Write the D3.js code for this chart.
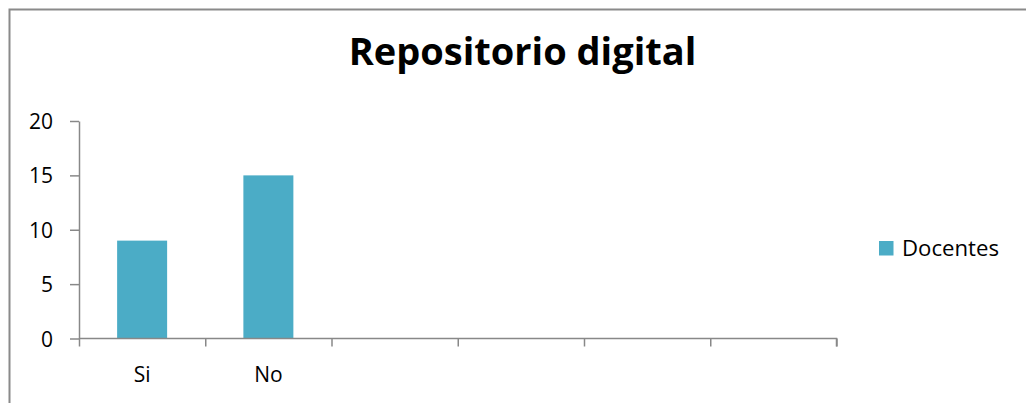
<!DOCTYPE html>
<html><head><meta charset="utf-8">
<script src="https://cdn.jsdelivr.net/npm/d3@7"></script>
<style>body{margin:0;background:#fff}svg{display:block}</style>
</head><body>
<svg id="c" width="1026" height="403"></svg>
<script>
const title = "Repositorio digital";
const categories = ["Si", "No", "", "", "", ""];
const seriesName = "Docentes";
const values = [9, 15, null, null, null, null];
const yTicks = [0, 5, 10, 15, 20];

const font = "'Open Sans', sans-serif";
const svg = d3.select("#c");
const axisColor = "#888";

// frame
svg.append("rect").attr("x", 9.5).attr("y", 9.5).attr("width", 1030).attr("height", 400)
  .attr("fill", "#fff").attr("stroke", "#8a8a8a").attr("stroke-width", 2);

const x = d3.scaleBand().domain(d3.range(categories.length)).range([79, 836.5]).paddingInner(0).paddingOuter(0);
const y = d3.scaleLinear().domain([0, 20]).range([338.5, 121]);

function fit(sel, base, target, lo, hi) {
  const w = sel.node().getComputedTextLength();
  let s = w > 0 ? base * target / w : base;
  s = Math.max(lo, Math.min(hi, s));
  sel.attr("font-size", s);
}

// title
const t = svg.append("text").attr("x", 522.5).attr("y", 65).attr("text-anchor", "middle")
  .attr("font-family", font).attr("font-weight", "bold").attr("font-size", 32).attr("fill", "#000").text(title);
fit(t, 32, 355, 28, 38);

// bars
const bw = 50;
svg.append("g").selectAll("rect").data(values.map((v, i) => ({v, i})).filter(d => d.v != null))
  .join("rect")
  .attr("x", d => x(d.i) + x.bandwidth() / 2 - bw / 2)
  .attr("width", bw)
  .attr("y", d => y(d.v))
  .attr("height", d => y(0) - y(d.v))
  .attr("fill", "#4bacc6");

// y axis
const yAxis = d3.axisLeft(y).tickValues(yTicks).tickSize(9).tickPadding(17).tickSizeOuter(0);
const gy = svg.append("g").attr("transform", "translate(79,0)").call(yAxis);
gy.selectAll("path,line").attr("stroke", axisColor).attr("stroke-width", 1.5);
gy.selectAll("text").attr("font-family", font).attr("font-size", 21).attr("fill", "#000").attr("dy", "0.36em");

// x axis
const xEdge = d3.scaleLinear().domain([0, categories.length]).range([79, 836.5]);
const gx = svg.append("g").attr("transform", `translate(0,${y(0)})`)
  .call(d3.axisBottom(xEdge).tickValues(d3.range(categories.length + 1)).tickSize(8).tickSizeOuter(0).tickFormat(""));
gx.selectAll("path,line").attr("stroke", axisColor).attr("stroke-width", 1.5);
gx.select(".domain").attr("d", `M79,0H836.5V8`);
svg.append("g").selectAll("text").data(categories).join("text")
  .attr("x", (d, i) => x(i) + x.bandwidth() / 2)
  .attr("y", 382).attr("text-anchor", "middle")
  .attr("font-family", font).attr("font-size", 21).attr("fill", "#000").text(d => d);

// legend
svg.append("rect").attr("x", 879).attr("y", 241).attr("width", 14.5).attr("height", 14.5).attr("fill", "#4bacc6");
const lt = svg.append("text").attr("x", 902).attr("y", 256).attr("font-family", font).attr("font-size", 21)
  .attr("fill", "#000").text(seriesName);
fit(lt, 21, 97, 19, 23);
</script>
</body></html>
